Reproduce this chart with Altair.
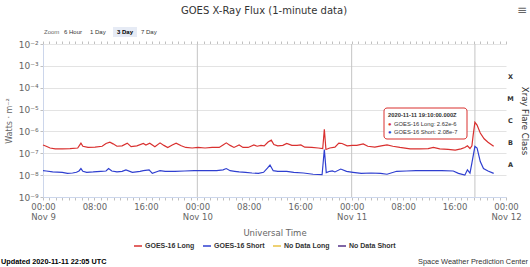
import altair as alt
import pandas as pd

# ---------------- data ----------------
# (hours since 2020-11-09 00:00 UTC, flux W/m^2)
goes_long = [
    (0.0, 2.4e-7), (0.5, 2.1e-7), (1.1, 1.75e-7), (1.9, 1.6e-7), (3.0, 1.6e-7),
    (4.2, 1.65e-7), (5.4, 1.75e-7), (5.75, 2.5e-7), (5.9, 2.9e-7), (6.2, 2.1e-7),
    (7.0, 1.85e-7), (8.1, 1.9e-7), (9.2, 2.1e-7), (9.8, 2.8e-7), (10.4, 3.2e-7),
    (10.9, 2.7e-7), (11.5, 2.1e-7), (12.3, 2.2e-7), (13.1, 2.9e-7), (13.7, 2.0e-7),
    (14.6, 2.2e-7), (15.6, 2.8e-7), (16.0, 2.4e-7), (16.6, 2.9e-7), (17.4, 2.0e-7),
    (18.2, 3.0e-7), (18.8, 2.3e-7), (19.4, 1.85e-7), (20.1, 2.4e-7), (20.7, 2.9e-7),
    (21.5, 2.2e-7), (22.2, 1.85e-7), (23.2, 1.75e-7), (24.1, 1.85e-7), (25.2, 1.75e-7),
    (26.3, 1.85e-7), (27.4, 1.85e-7), (28.0, 2.4e-7), (28.5, 3.0e-7), (29.1, 2.3e-7),
    (29.7, 1.85e-7), (30.5, 2.4e-7), (31.1, 1.85e-7), (31.9, 1.85e-7), (32.8, 2.4e-7),
    (33.3, 2.1e-7), (33.9, 2.3e-7), (34.4, 2.2e-7), (35.0, 3.3e-7), (35.5, 4.0e-7),
    (35.9, 2.5e-7), (36.5, 2.2e-7), (37.3, 2.3e-7), (37.9, 2.8e-7), (38.7, 2.3e-7),
    (39.5, 2.3e-7), (40.1, 2.4e-7), (40.7, 1.9e-7), (41.8, 1.85e-7), (42.8, 1.75e-7),
    (43.5, 1.65e-7), (43.75, 1.26e-6), (44.0, 1.5e-7), (44.6, 1.75e-7), (45.4, 1.9e-7),
    (46.0, 2.9e-7), (46.5, 2.8e-7), (47.3, 2.2e-7), (48.1, 2.3e-7), (48.8, 2.3e-7),
    (49.8, 2.7e-7), (50.5, 2.1e-7), (51.6, 1.9e-7), (52.6, 2.2e-7), (53.5, 2.4e-7),
    (54.4, 2.1e-7), (55.5, 1.85e-7), (57.1, 1.6e-7), (58.6, 1.6e-7), (59.9, 1.65e-7),
    (60.7, 1.85e-7), (61.7, 1.6e-7), (63.0, 1.5e-7), (64.1, 1.41e-7), (65.0, 1.6e-7),
    (65.6, 1.85e-7), (66.0, 2.2e-7), (66.4, 1.65e-7), (66.7, 2.2e-7), (66.9, 7.0e-7),
    (67.1667, 2.62e-6), (67.5, 1.95e-6), (68.0, 8.5e-7), (68.6, 4.6e-7), (69.2, 3.2e-7),
    (69.8, 2.4e-7), (70.08, 2.1e-7),
]
goes_short = [
    (0.0, 1.6e-8), (0.5, 1.55e-8), (1.5, 1.4e-8), (3.0, 1.35e-8), (3.8, 1.2e-8),
    (4.6, 1.25e-8), (5.2, 1.35e-8), (5.6, 1.55e-8), (5.9, 2.0e-8), (6.2, 1.5e-8),
    (6.8, 1.35e-8), (7.8, 1.4e-8), (9.0, 1.5e-8), (9.8, 1.55e-8), (10.2, 2.0e-8),
    (10.7, 1.55e-8), (11.5, 1.4e-8), (12.3, 1.5e-8), (12.9, 1.75e-8), (13.9, 1.35e-8),
    (15.1, 1.5e-8), (15.6, 1.6e-8), (16.5, 1.75e-8), (17.0, 1.2e-8), (17.9, 1.5e-8),
    (18.2, 1.6e-8), (19.0, 1.5e-8), (20.5, 1.5e-8), (22.0, 1.55e-8), (23.5, 1.6e-8),
    (25.0, 1.6e-8), (27.0, 1.6e-8), (28.0, 1.75e-8), (28.5, 2.0e-8), (29.1, 1.6e-8),
    (29.8, 1.5e-8), (30.5, 1.4e-8), (31.5, 1.35e-8), (32.5, 1.25e-8), (33.5, 1.2e-8),
    (34.3, 1.35e-8), (34.9, 2.1e-8), (35.3, 2.9e-8), (35.8, 1.6e-8), (36.5, 1.5e-8),
    (37.9, 1.5e-8), (39.0, 1.35e-8), (40.5, 1.25e-8), (42.0, 1.1e-8), (43.4, 1.05e-8),
    (43.75, 1.5e-7), (44.05, 1.3e-8), (44.6, 1.5e-8), (45.0, 1.55e-8), (45.4, 1.4e-8),
    (46.3, 1.9e-8), (47.2, 1.5e-8), (48.2, 1.35e-8), (49.5, 1.2e-8), (51.0, 1.25e-8),
    (52.5, 1.2e-8), (53.5, 1.1e-8), (55.0, 1.5e-8), (56.5, 1.55e-8), (58.0, 1.6e-8),
    (60.0, 1.6e-8), (62.0, 1.6e-8), (63.8, 1.55e-8), (64.6, 1.2e-8), (65.6, 1.0e-8),
    (66.0, 1.75e-8), (66.4, 1.25e-8), (66.7, 3.6e-8), (67.1667, 2.08e-7), (67.5, 1.75e-7),
    (68.0, 4.2e-8), (68.5, 2.0e-8), (69.2, 1.55e-8), (70.08, 1.2e-8),
]
series_names = ["GOES-16 Long", "GOES-16 Short", "No Data Long", "No Data Short"]
series_colors = ["#d9302f", "#2f3fd0", "#e8c244", "#553388"]
decades = [1e-9, 1e-8, 1e-7, 1e-6, 1e-5, 1e-4, 1e-3, 1e-2]
decade_labels = ["10⁻⁹", "10⁻⁸", "10⁻⁷", "10⁻⁶", "10⁻⁵", "10⁻⁴", "10⁻³", "10⁻²"]
flare_classes = ["A", "B", "C", "M", "X"]
flare_mid = [10 ** -7.5, 10 ** -6.5, 10 ** -5.5, 10 ** -4.5, 10 ** -3.5]
start_time = "2020-11-09T00:00:00Z"
end_time = "2020-11-12T00:00:00Z"
day_lines = ["2020-11-10T00:00:00Z", "2020-11-11T00:00:00Z"]
crosshair_time = "2020-11-11T19:10:00Z"
updated_text = "Updated 2020-11-11 22:05 UTC"

# ---------------- build tables ----------------
def ms(ts):
    return int(pd.Timestamp(ts).value // 1_000_000)
t0_ms = ms(start_time)
t1_ms = ms(end_time)

rows = []
for name, readings in (("GOES-16 Long", goes_long), ("GOES-16 Short", goes_short)):
    for h, v in readings:
        rows.append({"t": t0_ms + round(h * 60) * 60000, "flux": v, "series": name})
df = pd.DataFrame(rows)

rules_df = pd.DataFrame({"t": [ms(d) for d in day_lines] + [ms(crosshair_time)]})
hour_ticks = list(range(t0_ms, t1_ms + 1, 3600000))

FONT = "DejaVu Sans"
SANS = "Liberation Sans"
xscale = alt.Scale(type="utc", domain=[t0_ms, t1_ms])
yscale = alt.Scale(type="log", domain=[1e-9, 1e-2])

label_arr = "[" + ",".join(f"'{s}'" for s in decade_labels) + "]"
ylabel_expr = f"{label_arr}[round(log(datum.value)/LN10) + 9]"
flare_map = "[" + ",".join(f"'{c}'" for c in flare_classes) + "]"
flare_expr = f"{flare_map}[round(log(datum.value)/LN10 + 7.5)]"

xlabel_expr = (
    "utchours(datum.value) == 0 ? [utcFormat(datum.value, '%H:%M'), utcFormat(datum.value, '%b %-d')]"
    " : (utchours(datum.value) % 8 == 0 ? utcFormat(datum.value, '%H:%M') : '')"
)

lines = alt.Chart(df).mark_line(strokeWidth=1.2).encode(
    x=alt.X("t:T", scale=xscale, axis=alt.Axis(
        orient="bottom", values=hour_ticks, labelExpr=xlabel_expr, labelOverlap=False,
        labelFlush=False, grid=False, tickSize=3, tickColor="#c0c0c0", domainColor="#ccd6eb",
        labelFont=FONT, labelFontSize=8.5, labelColor="#666", labelPadding=2, labelLineHeight=10,
        title="Universal Time", titleFont=FONT, titleFontSize=8.5, titleFontWeight="normal",
        titleColor="#666", titleY=35, titleBaseline="middle")),
    y=alt.Y("flux:Q", scale=yscale, axis=alt.Axis(
        orient="left", values=decades, labelExpr=ylabel_expr, grid=True, gridColor="#e3e3e3",
        domainColor="#ccd6eb", tickSize=3, tickColor="#c0c0c0", labelFont=FONT, labelFontSize=9,
        labelColor="#666", labelPadding=2, title=None)),
    color=alt.Color("series:N", scale=alt.Scale(domain=series_names, range=series_colors),
                    legend=alt.Legend(orient="none", legendX=90, legendY=197, direction="horizontal",
                                      title=None, symbolType="stroke", symbolStrokeWidth=1.5,
                                      symbolSize=64, labelFont=SANS, labelFontSize=7,
                                      labelFontWeight="bold", labelColor="#333", labelOffset=2,
                                      columnPadding=5, padding=0)),
    detail="series:N",
)

right_axis = alt.Chart(df).mark_point(opacity=0).encode(
    x=alt.X("t:T", scale=xscale, axis=alt.Axis(
        orient="top", values=hour_ticks, labels=False, grid=False, tickSize=3,
        tickColor="#c0c0c0", domainColor="#e6e6e6", title=None)),
    y=alt.Y("flux:Q", scale=yscale, axis=alt.Axis(
        orient="right", values=flare_mid, labelExpr=flare_expr, ticks=False, domain=False,
        grid=False, labelFont=FONT, labelFontSize=6.5, labelFontWeight="bold", labelColor="#333",
        labelPadding=4, labelAlign="center", labelBaseline="middle",
        title="Xray Flare Class", titleFont=FONT, titleFontSize=8.5, titleFontWeight="normal",
        titleColor="#333", titlePadding=6)),
)

rules = alt.Chart(rules_df).mark_rule(color="#c4c4c4", strokeWidth=1).encode(
    x=alt.X("t:T", scale=xscale, axis=None)
)

one = pd.DataFrame({"a": [0]})

def txt(text, x, y, size=7, color="#333", weight="normal", align="left", angle=0,
        baseline="middle", font=FONT):
    return alt.Chart(one).mark_text(
        font=font, fontSize=size, color=color, fontWeight=weight, align=align,
        angle=angle, baseline=baseline, text=text,
    ).encode(x=alt.value(x), y=alt.value(y))

def box(x, x2, y, y2, fill, stroke=None, radius=0, opacity=1):
    kw = dict(fill=fill, cornerRadius=radius, fillOpacity=opacity)
    if stroke:
        kw.update(stroke=stroke, strokeWidth=1)
    return alt.Chart(one).mark_rect(**kw).encode(
        x=alt.value(x), x2=alt.value(x2), y=alt.value(y), y2=alt.value(y2))

# tooltip content taken from the data at the crosshair time
def sci(v):
    m, e = f"{v:.2e}".split("e")
    return f"{m}e{int(e)}"
ch_ms = ms(crosshair_time)
def value_at(name):
    sub = df[df.series == name]
    return sub.loc[(sub.t - ch_ms).abs().idxmin(), "flux"]
v_long = value_at("GOES-16 Long")
v_short = value_at("GOES-16 Short")
tip_title = pd.Timestamp(crosshair_time).strftime("%Y-%m-%d %H:%M:%S.000Z")

# positions relative to the plot origin (43, 44)
ox, oy = 43, 44
layers = [
    rules, lines, right_axis,
    txt("GOES X-Ray Flux (1-minute data)", 264 - ox, 11 - oy, size=10, color="#333", align="center"),
    txt("≡", 522 - ox, 10 - oy, size=12, color="#666", align="center"),
    txt("Zoom", 44 - ox, 32 - oy, size=6, color="#666", font=SANS),
    txt("6 Hour", 64 - ox, 32 - oy, size=6, color="#333", font=SANS),
    txt("1 Day", 90 - ox, 32 - oy, size=6, color="#333", font=SANS),
    box(113 - ox, 137 - ox, 27 - oy, 37 - oy, "#e6ebf5"),
    txt("3 Day", 117 - ox, 32 - oy, size=6, color="#000", weight="bold", font=SANS),
    txt("7 Day", 141 - ox, 32 - oy, size=6, color="#333", font=SANS),
    txt("Watts · m⁻²", 10 - ox, 121 - oy, size=8, color="#666", align="center", angle=270),
    txt(updated_text, 1 - ox, 262 - oy, size=7.3, color="#000", weight="bold", font=SANS),
    txt("Space Weather Prediction Center", 528 - ox, 262 - oy, size=7.4, color="#333",
        align="right", font=SANS),
    box(384 - ox, 467 - ox, 108 - oy, 139 - oy, "#ffffff", stroke=series_colors[0], radius=3, opacity=0.92),
    txt(tip_title, 388 - ox, 115 - oy, size=5.8, color="#333", weight="bold", font=SANS),
    txt("●", 388 - ox, 123.5 - oy, size=5.8, color=series_colors[0], font=SANS),
    txt(f"GOES-16 Long: {sci(v_long)}", 394 - ox, 123.5 - oy, size=5.8, color="#333", font=SANS),
    txt("●", 388 - ox, 131.5 - oy, size=5.8, color=series_colors[1], font=SANS),
    txt(f"GOES-16 Short: {sci(v_short)}", 394 - ox, 131.5 - oy, size=5.8, color="#333", font=SANS),
]

chart = alt.layer(*layers).resolve_axis(x="independent", y="independent").properties(
    width=463, height=153,
    autosize=alt.AutoSizeParams(type="none"),
    padding={"left": 43, "top": 44, "right": 24, "bottom": 70},
    background="#ffffff",
).configure_view(stroke=None)

chart.save("out.html", embed_options={"renderer": "svg", "actions": False})
